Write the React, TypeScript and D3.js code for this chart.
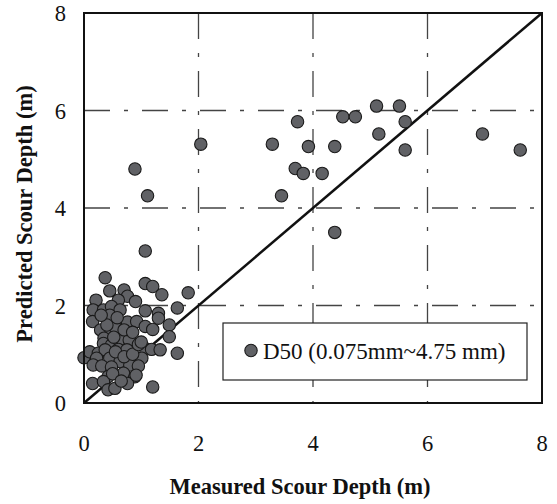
import React from "react";
import * as d3 from "d3";

const measured: number[] = [
  3.73, 3.29, 3.92, 4.38, 4.52, 4.74, 5.11, 5.51, 5.61, 5.15, 5.61, 6.96, 7.62, 3.69, 3.83, 4.16, 3.45, 4.38,
  2.04, 0.89, 1.11, 1.07,
  0.37, 1.07, 1.2, 1.36, 1.82, 0.45, 0.7, 0.76, 0.21, 0.6, 0.9, 1.63, 0.16, 0.34, 0.48, 0.63, 1.07, 1.3, 1.3,
  0.45, 0.15, 0.6, 0.76, 0.92, 1.07, 1.2, 1.49, 1.49, 0.29, 0.47, 0.8, 0.35, 0.63, 0.79, 0.34, 0.48, 1.07,
  1.18, 1.33, 1.63, 0.0, 0.1, 0.25, 0.37, 0.6, 0.75, 0.22, 0.45, 0.63, 1.01, 0.16, 0.31, 0.48, 0.8, 0.95,
  0.42, 0.69, 0.89, 0.15, 0.34, 0.42, 0.54, 0.76, 1.2, 0.91,
  0.55, 0.7, 0.4, 0.85, 0.55, 0.7, 0.5, 0.65, 0.85, 0.3, 0.95, 0.52, 1.0, 0.58,
];
const predicted: number[] = [
  5.77, 5.31, 5.26, 5.26, 5.87, 5.87, 6.09, 6.09, 5.77, 5.52, 5.19, 5.52, 5.19, 4.81, 4.71, 4.71, 4.25, 3.5,
  5.31, 4.8, 4.25, 3.12,
  2.57, 2.45, 2.39, 2.22, 2.26, 2.3, 2.32, 2.19, 2.11, 2.11, 2.08, 1.95, 1.91, 1.91, 1.98, 1.91, 1.89, 1.84, 1.74,
  1.8, 1.67, 1.67, 1.66, 1.67, 1.57, 1.51, 1.6, 1.36, 1.5, 1.43, 1.39, 1.33, 1.29, 1.29, 1.22, 1.19, 1.12,
  1.1, 1.09, 1.02, 0.93, 1.05, 1.02, 1.09, 1.1, 1.09, 0.92, 0.92, 0.85, 0.92, 0.78, 0.76, 0.74, 0.78, 0.76,
  0.54, 0.61, 0.54, 0.4, 0.44, 0.27, 0.3, 0.4, 0.33, 0.57,
  1.55, 1.5, 1.6, 1.45, 1.05, 0.95, 0.6, 0.45, 1.0, 1.8, 1.2, 1.35, 1.25, 1.75,
];
const xTicks = [0, 2, 4, 6, 8];
const yTicks = [0, 2, 4, 6, 8];
const legendLabel = "D50 (0.075mm~4.75 mm)";
const xTitle = "Measured Scour Depth (m)";
const yTitle = "Predicted Scour Depth (m)";

export default function App() {
  const W = 557, H = 504;
  const L = 84, R = 542, T = 13, B = 403;
  const x = d3.scaleLinear().domain([0, 8]).range([L, R]);
  const y = d3.scaleLinear().domain([0, 8]).range([B, T]);
  const font = "'Liberation Serif', 'Times New Roman', serif";
  const pts = measured.map((m, i) => ({ m, p: predicted[i] }));
  const dash = "26,14,4,14";
  const line = d3.line<[number, number]>().x(d => x(d[0])).y(d => y(d[1]));
  return (
    <svg width={W} height={H} style={{ position: "absolute", left: 0, top: 0 }}>
      <rect x={0} y={0} width={W} height={H} fill="#fff" />
      {[2, 4, 6].map(v => (
        <g key={"g" + v}>
          <line x1={x(v)} x2={x(v)} y1={T} y2={B} stroke="#444" strokeWidth={1.3} strokeDasharray={dash} />
          <line x1={L} x2={R} y1={y(v)} y2={y(v)} stroke="#444" strokeWidth={1.3} strokeDasharray={dash} />
        </g>
      ))}
      <path d={line([[0, 0], [8, 8]]) || ""} stroke="#111" strokeWidth={2.5} fill="none" />
      {pts.map((d, i) => (
        <circle key={i} cx={x(d.m)} cy={y(d.p)} r={6.2} fill="#606165" stroke="#1a1a1a" strokeWidth={1.1} />
      ))}
      <rect x={L} y={T} width={R - L} height={B - T} fill="none" stroke="#111" strokeWidth={2} />
      <g>
        <rect x={223} y={323} width={304} height={57} fill="#fff" stroke="#222" strokeWidth={1.2} />
        <circle cx={251} cy={350.5} r={6.2} fill="#606165" stroke="#1a1a1a" strokeWidth={1.1} />
        <text x={263} y={358.5} fontFamily={font} fontSize={23} fill="#111">{legendLabel}</text>
      </g>
      {yTicks.map(v => (
        <text key={"y" + v} x={66} y={y(v) + 8} textAnchor="end" fontFamily={font} fontSize={22.5} fill="#111">{v}</text>
      ))}
      {xTicks.map(v => (
        <text key={"x" + v} x={x(v)} y={451} textAnchor="middle" fontFamily={font} fontSize={22.5} fill="#111">{v}</text>
      ))}
      <text x={300} y={494} textAnchor="middle" fontFamily={font} fontSize={22.5} fontWeight="bold" fill="#111">{xTitle}</text>
      <text transform={`translate(32,${214}) rotate(-90)`} textAnchor="middle" fontFamily={font} fontSize={22.5} fontWeight="bold" fill="#111">{yTitle}</text>
    </svg>
  );
}
